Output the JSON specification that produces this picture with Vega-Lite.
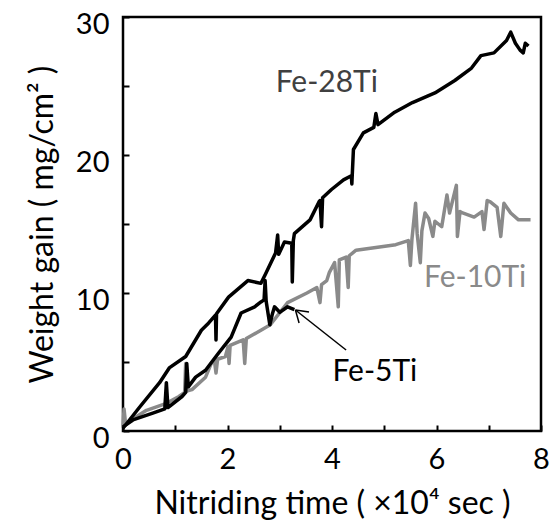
{
  "$schema": "https://vega.github.io/schema/vega-lite/v6.json",
  "width": 418,
  "height": 414,
  "autosize": {"type": "none"},
  "padding": {"left": 123, "top": 17, "right": 11, "bottom": 98},
  "background": "white",
  "config": {
    "font": "Lato",
    "view": {"stroke": "black", "strokeWidth": 2.5},
    "axis": {"domain": false, "grid": false, "tickColor": "black", "tickWidth": 2, "tickSize": -6, "labelColor": "black", "labelFont": "Lato", "labelFontSize": 29, "titleFont": "Lato", "titleFontSize": 32, "titleFontWeight": "normal", "titleColor": "black"}
  },
  "datasets": {
    "lines": [
      {"s": "Fe-10Ti", "i": 1, "t": 0, "w": 0.3},
      {"s": "Fe-10Ti", "i": 2, "t": 0.02, "w": 1.6},
      {"s": "Fe-10Ti", "i": 3, "t": 0.05, "w": 0.5},
      {"s": "Fe-10Ti", "i": 4, "t": 0.2, "w": 0.9},
      {"s": "Fe-10Ti", "i": 5, "t": 0.45, "w": 1.5},
      {"s": "Fe-10Ti", "i": 6, "t": 0.83, "w": 2.0},
      {"s": "Fe-10Ti", "i": 7, "t": 1.07, "w": 2.5},
      {"s": "Fe-10Ti", "i": 8, "t": 1.18, "w": 2.8},
      {"s": "Fe-10Ti", "i": 9, "t": 1.2, "w": 4.9},
      {"s": "Fe-10Ti", "i": 10, "t": 1.22, "w": 2.9},
      {"s": "Fe-10Ti", "i": 11, "t": 1.32, "w": 3.0},
      {"s": "Fe-10Ti", "i": 12, "t": 1.58, "w": 3.9},
      {"s": "Fe-10Ti", "i": 13, "t": 1.69, "w": 4.9},
      {"s": "Fe-10Ti", "i": 14, "t": 1.75, "w": 5.1},
      {"s": "Fe-10Ti", "i": 15, "t": 1.78, "w": 4.2},
      {"s": "Fe-10Ti", "i": 16, "t": 1.81, "w": 5.2},
      {"s": "Fe-10Ti", "i": 17, "t": 1.96, "w": 5.4},
      {"s": "Fe-10Ti", "i": 18, "t": 2.01, "w": 6.1},
      {"s": "Fe-10Ti", "i": 19, "t": 2.03, "w": 4.9},
      {"s": "Fe-10Ti", "i": 20, "t": 2.05, "w": 6.2},
      {"s": "Fe-10Ti", "i": 21, "t": 2.3, "w": 6.6},
      {"s": "Fe-10Ti", "i": 22, "t": 2.33, "w": 4.9},
      {"s": "Fe-10Ti", "i": 23, "t": 2.36, "w": 6.7},
      {"s": "Fe-10Ti", "i": 24, "t": 2.64, "w": 7.3},
      {"s": "Fe-10Ti", "i": 25, "t": 2.82, "w": 7.7},
      {"s": "Fe-10Ti", "i": 26, "t": 3.15, "w": 9.3},
      {"s": "Fe-10Ti", "i": 27, "t": 3.52, "w": 10.0},
      {"s": "Fe-10Ti", "i": 28, "t": 3.71, "w": 10.4},
      {"s": "Fe-10Ti", "i": 29, "t": 3.77, "w": 9.3},
      {"s": "Fe-10Ti", "i": 30, "t": 3.8, "w": 10.6},
      {"s": "Fe-10Ti", "i": 31, "t": 3.9, "w": 10.9},
      {"s": "Fe-10Ti", "i": 32, "t": 3.95, "w": 11.5},
      {"s": "Fe-10Ti", "i": 33, "t": 4.05, "w": 12.2},
      {"s": "Fe-10Ti", "i": 34, "t": 4.12, "w": 9.0},
      {"s": "Fe-10Ti", "i": 35, "t": 4.14, "w": 12.4},
      {"s": "Fe-10Ti", "i": 36, "t": 4.27, "w": 12.6},
      {"s": "Fe-10Ti", "i": 37, "t": 4.31, "w": 10.4},
      {"s": "Fe-10Ti", "i": 38, "t": 4.33, "w": 12.7},
      {"s": "Fe-10Ti", "i": 39, "t": 4.46, "w": 13.1},
      {"s": "Fe-10Ti", "i": 40, "t": 4.84, "w": 13.3},
      {"s": "Fe-10Ti", "i": 41, "t": 5.22, "w": 13.5},
      {"s": "Fe-10Ti", "i": 42, "t": 5.46, "w": 13.8},
      {"s": "Fe-10Ti", "i": 43, "t": 5.5, "w": 12.0},
      {"s": "Fe-10Ti", "i": 44, "t": 5.53, "w": 13.9},
      {"s": "Fe-10Ti", "i": 45, "t": 5.6, "w": 16.5},
      {"s": "Fe-10Ti", "i": 46, "t": 5.63, "w": 14.3},
      {"s": "Fe-10Ti", "i": 47, "t": 5.69, "w": 12.2},
      {"s": "Fe-10Ti", "i": 48, "t": 5.72, "w": 14.5},
      {"s": "Fe-10Ti", "i": 49, "t": 5.78, "w": 15.8},
      {"s": "Fe-10Ti", "i": 50, "t": 5.85, "w": 15.4},
      {"s": "Fe-10Ti", "i": 51, "t": 5.93, "w": 14.1},
      {"s": "Fe-10Ti", "i": 52, "t": 5.97, "w": 15.2},
      {"s": "Fe-10Ti", "i": 53, "t": 6.1, "w": 14.8},
      {"s": "Fe-10Ti", "i": 54, "t": 6.2, "w": 17.1},
      {"s": "Fe-10Ti", "i": 55, "t": 6.25, "w": 15.8},
      {"s": "Fe-10Ti", "i": 56, "t": 6.38, "w": 17.8},
      {"s": "Fe-10Ti", "i": 57, "t": 6.4, "w": 14.1},
      {"s": "Fe-10Ti", "i": 58, "t": 6.45, "w": 15.9},
      {"s": "Fe-10Ti", "i": 59, "t": 6.5, "w": 15.8},
      {"s": "Fe-10Ti", "i": 60, "t": 6.72, "w": 15.5},
      {"s": "Fe-10Ti", "i": 61, "t": 6.87, "w": 15.9},
      {"s": "Fe-10Ti", "i": 62, "t": 6.91, "w": 14.6},
      {"s": "Fe-10Ti", "i": 63, "t": 6.97, "w": 16.7},
      {"s": "Fe-10Ti", "i": 64, "t": 7.03, "w": 16.6},
      {"s": "Fe-10Ti", "i": 65, "t": 7.16, "w": 16.2},
      {"s": "Fe-10Ti", "i": 66, "t": 7.23, "w": 14.1},
      {"s": "Fe-10Ti", "i": 67, "t": 7.29, "w": 16.5},
      {"s": "Fe-10Ti", "i": 68, "t": 7.42, "w": 15.8},
      {"s": "Fe-10Ti", "i": 69, "t": 7.57, "w": 15.3},
      {"s": "Fe-10Ti", "i": 70, "t": 7.8, "w": 15.3},

      {"s": "Fe-5Ti", "i": 1, "t": 0, "w": 0.3},
      {"s": "Fe-5Ti", "i": 2, "t": 0.19, "w": 0.8},
      {"s": "Fe-5Ti", "i": 3, "t": 0.57, "w": 1.3},
      {"s": "Fe-5Ti", "i": 4, "t": 0.8, "w": 1.6},
      {"s": "Fe-5Ti", "i": 5, "t": 0.83, "w": 3.5},
      {"s": "Fe-5Ti", "i": 6, "t": 0.86, "w": 1.7},
      {"s": "Fe-5Ti", "i": 7, "t": 1.13, "w": 2.5},
      {"s": "Fe-5Ti", "i": 8, "t": 1.2, "w": 2.8},
      {"s": "Fe-5Ti", "i": 9, "t": 1.22, "w": 4.9},
      {"s": "Fe-5Ti", "i": 10, "t": 1.25, "w": 3.2},
      {"s": "Fe-5Ti", "i": 11, "t": 1.39, "w": 3.9},
      {"s": "Fe-5Ti", "i": 12, "t": 1.58, "w": 4.4},
      {"s": "Fe-5Ti", "i": 13, "t": 1.83, "w": 5.65},
      {"s": "Fe-5Ti", "i": 14, "t": 2.07, "w": 6.8},
      {"s": "Fe-5Ti", "i": 15, "t": 2.26, "w": 8.55},
      {"s": "Fe-5Ti", "i": 16, "t": 2.52, "w": 9.0},
      {"s": "Fe-5Ti", "i": 17, "t": 2.64, "w": 9.35},
      {"s": "Fe-5Ti", "i": 18, "t": 2.7, "w": 9.5},
      {"s": "Fe-5Ti", "i": 19, "t": 2.72, "w": 10.9},
      {"s": "Fe-5Ti", "i": 20, "t": 2.74, "w": 9.4},
      {"s": "Fe-5Ti", "i": 21, "t": 2.81, "w": 7.7},
      {"s": "Fe-5Ti", "i": 22, "t": 2.86, "w": 8.5},
      {"s": "Fe-5Ti", "i": 23, "t": 2.9, "w": 9.0},
      {"s": "Fe-5Ti", "i": 24, "t": 3.0, "w": 8.6},
      {"s": "Fe-5Ti", "i": 25, "t": 3.15, "w": 9.0},
      {"s": "Fe-5Ti", "i": 26, "t": 3.28, "w": 8.8},

      {"s": "Fe-28Ti", "i": 1, "t": 0, "w": 0.2},
      {"s": "Fe-28Ti", "i": 2, "t": 0.32, "w": 1.74},
      {"s": "Fe-28Ti", "i": 3, "t": 0.7, "w": 3.5},
      {"s": "Fe-28Ti", "i": 4, "t": 0.885, "w": 4.57},
      {"s": "Fe-28Ti", "i": 5, "t": 1.2, "w": 5.4},
      {"s": "Fe-28Ti", "i": 6, "t": 1.5, "w": 7.3},
      {"s": "Fe-28Ti", "i": 7, "t": 1.64, "w": 7.83},
      {"s": "Fe-28Ti", "i": 8, "t": 1.77, "w": 8.4},
      {"s": "Fe-28Ti", "i": 9, "t": 1.78, "w": 6.6},
      {"s": "Fe-28Ti", "i": 10, "t": 1.79, "w": 8.5},
      {"s": "Fe-28Ti", "i": 11, "t": 2.02, "w": 9.7},
      {"s": "Fe-28Ti", "i": 12, "t": 2.39, "w": 10.9},
      {"s": "Fe-28Ti", "i": 13, "t": 2.64, "w": 10.7},
      {"s": "Fe-28Ti", "i": 14, "t": 2.73, "w": 11.4},
      {"s": "Fe-28Ti", "i": 15, "t": 2.92, "w": 12.9},
      {"s": "Fe-28Ti", "i": 16, "t": 2.96, "w": 14.2},
      {"s": "Fe-28Ti", "i": 17, "t": 2.98, "w": 12.8},
      {"s": "Fe-28Ti", "i": 18, "t": 3.09, "w": 13.7},
      {"s": "Fe-28Ti", "i": 19, "t": 3.23, "w": 13.6},
      {"s": "Fe-28Ti", "i": 20, "t": 3.24, "w": 10.8},
      {"s": "Fe-28Ti", "i": 21, "t": 3.26, "w": 13.8},
      {"s": "Fe-28Ti", "i": 22, "t": 3.28, "w": 14.3},
      {"s": "Fe-28Ti", "i": 23, "t": 3.58, "w": 15.3},
      {"s": "Fe-28Ti", "i": 24, "t": 3.75, "w": 16.6},
      {"s": "Fe-28Ti", "i": 25, "t": 3.77, "w": 16.7},
      {"s": "Fe-28Ti", "i": 26, "t": 3.8, "w": 14.8},
      {"s": "Fe-28Ti", "i": 27, "t": 3.82, "w": 16.9},
      {"s": "Fe-28Ti", "i": 28, "t": 3.99, "w": 17.5},
      {"s": "Fe-28Ti", "i": 29, "t": 4.22, "w": 18.2},
      {"s": "Fe-28Ti", "i": 30, "t": 4.37, "w": 18.5},
      {"s": "Fe-28Ti", "i": 31, "t": 4.38, "w": 17.9},
      {"s": "Fe-28Ti", "i": 32, "t": 4.41, "w": 20.4},
      {"s": "Fe-28Ti", "i": 33, "t": 4.6, "w": 21.6},
      {"s": "Fe-28Ti", "i": 34, "t": 4.8, "w": 22.0},
      {"s": "Fe-28Ti", "i": 35, "t": 4.84, "w": 23.0},
      {"s": "Fe-28Ti", "i": 36, "t": 4.88, "w": 22.2},
      {"s": "Fe-28Ti", "i": 37, "t": 5.2, "w": 23.1},
      {"s": "Fe-28Ti", "i": 38, "t": 5.54, "w": 23.8},
      {"s": "Fe-28Ti", "i": 39, "t": 5.97, "w": 24.5},
      {"s": "Fe-28Ti", "i": 40, "t": 6.35, "w": 25.4},
      {"s": "Fe-28Ti", "i": 41, "t": 6.67, "w": 26.3},
      {"s": "Fe-28Ti", "i": 42, "t": 6.85, "w": 27.2},
      {"s": "Fe-28Ti", "i": 43, "t": 7.1, "w": 27.4},
      {"s": "Fe-28Ti", "i": 44, "t": 7.34, "w": 28.3},
      {"s": "Fe-28Ti", "i": 45, "t": 7.42, "w": 28.9},
      {"s": "Fe-28Ti", "i": 46, "t": 7.51, "w": 28.1},
      {"s": "Fe-28Ti", "i": 47, "t": 7.6, "w": 27.6},
      {"s": "Fe-28Ti", "i": 48, "t": 7.66, "w": 27.4},
      {"s": "Fe-28Ti", "i": 49, "t": 7.7, "w": 28.1},
      {"s": "Fe-28Ti", "i": 50, "t": 7.76, "w": 27.9}
    ],
    "arrow": [
      {"t": 3.3, "w": 8.77, "t2": 4.27, "w2": 5.87},
      {"t": 3.3, "w": 8.77, "t2": 3.56, "w2": 8.62},
      {"t": 3.3, "w": 8.77, "t2": 3.37, "w2": 7.83}
    ],
    "labels": [
      {"name": "Fe-28Ti", "t": 3.9, "w": 24.6},
      {"name": "Fe-10Ti", "t": 6.74, "w": 10.4},
      {"name": "Fe-5Ti", "t": 4.82, "w": 3.6}
    ]
  },
  "layer": [
    {
      "data": {"name": "lines"},
      "mark": {"type": "line", "strokeWidth": 3.5, "strokeJoin": "round"},
      "encoding": {
        "x": {"field": "t", "type": "quantitative", "scale": {"domain": [0, 8], "nice": false, "zero": false},
          "axis": {"values": [0, 1, 2, 3, 4, 5, 6, 7, 8], "labelExpr": "datum.value % 2 == 0 ? datum.label : ''", "labelPadding": 20, "title": "Nitriding time (  ×10⁴ sec  )", "titlePadding": 14, "labelFlush": false}},
        "y": {"field": "w", "type": "quantitative", "scale": {"domain": [0, 30], "nice": false, "zero": false},
          "axis": {"values": [0, 5, 10, 15, 20, 25, 30], "labelExpr": "datum.value % 10 == 0 ? datum.label : ''", "labelPadding": 20, "labelOffset": 7, "title": "Weight gain ( mg/cm²  )", "titlePadding": 16, "labelFlush": false}},
        "color": {"field": "s", "type": "nominal", "scale": {"domain": ["Fe-10Ti", "Fe-5Ti", "Fe-28Ti"], "range": ["#8a8a8a", "#000000", "#000000"]}, "legend": null},
        "detail": {"field": "s"},
        "order": {"field": "i", "type": "quantitative"}
      }
    },
    {
      "data": {"name": "arrow"},
      "mark": {"type": "rule", "color": "black", "strokeWidth": 1.5},
      "encoding": {
        "x": {"field": "t", "type": "quantitative"},
        "y": {"field": "w", "type": "quantitative"},
        "x2": {"field": "t2"},
        "y2": {"field": "w2"}
      }
    },
    {
      "data": {"name": "labels"},
      "mark": {"type": "text", "font": "Lato", "fontSize": 30, "baseline": "alphabetic", "align": "center"},
      "encoding": {
        "x": {"field": "t", "type": "quantitative"},
        "y": {"field": "w", "type": "quantitative"},
        "text": {"field": "name"},
        "color": {"field": "name", "type": "nominal", "scale": {"domain": ["Fe-28Ti", "Fe-10Ti", "Fe-5Ti"], "range": ["#404040", "#8a8a8a", "#000000"]}, "legend": null}
      }
    }
  ],
  "resolve": {"scale": {"color": "independent"}}
}
